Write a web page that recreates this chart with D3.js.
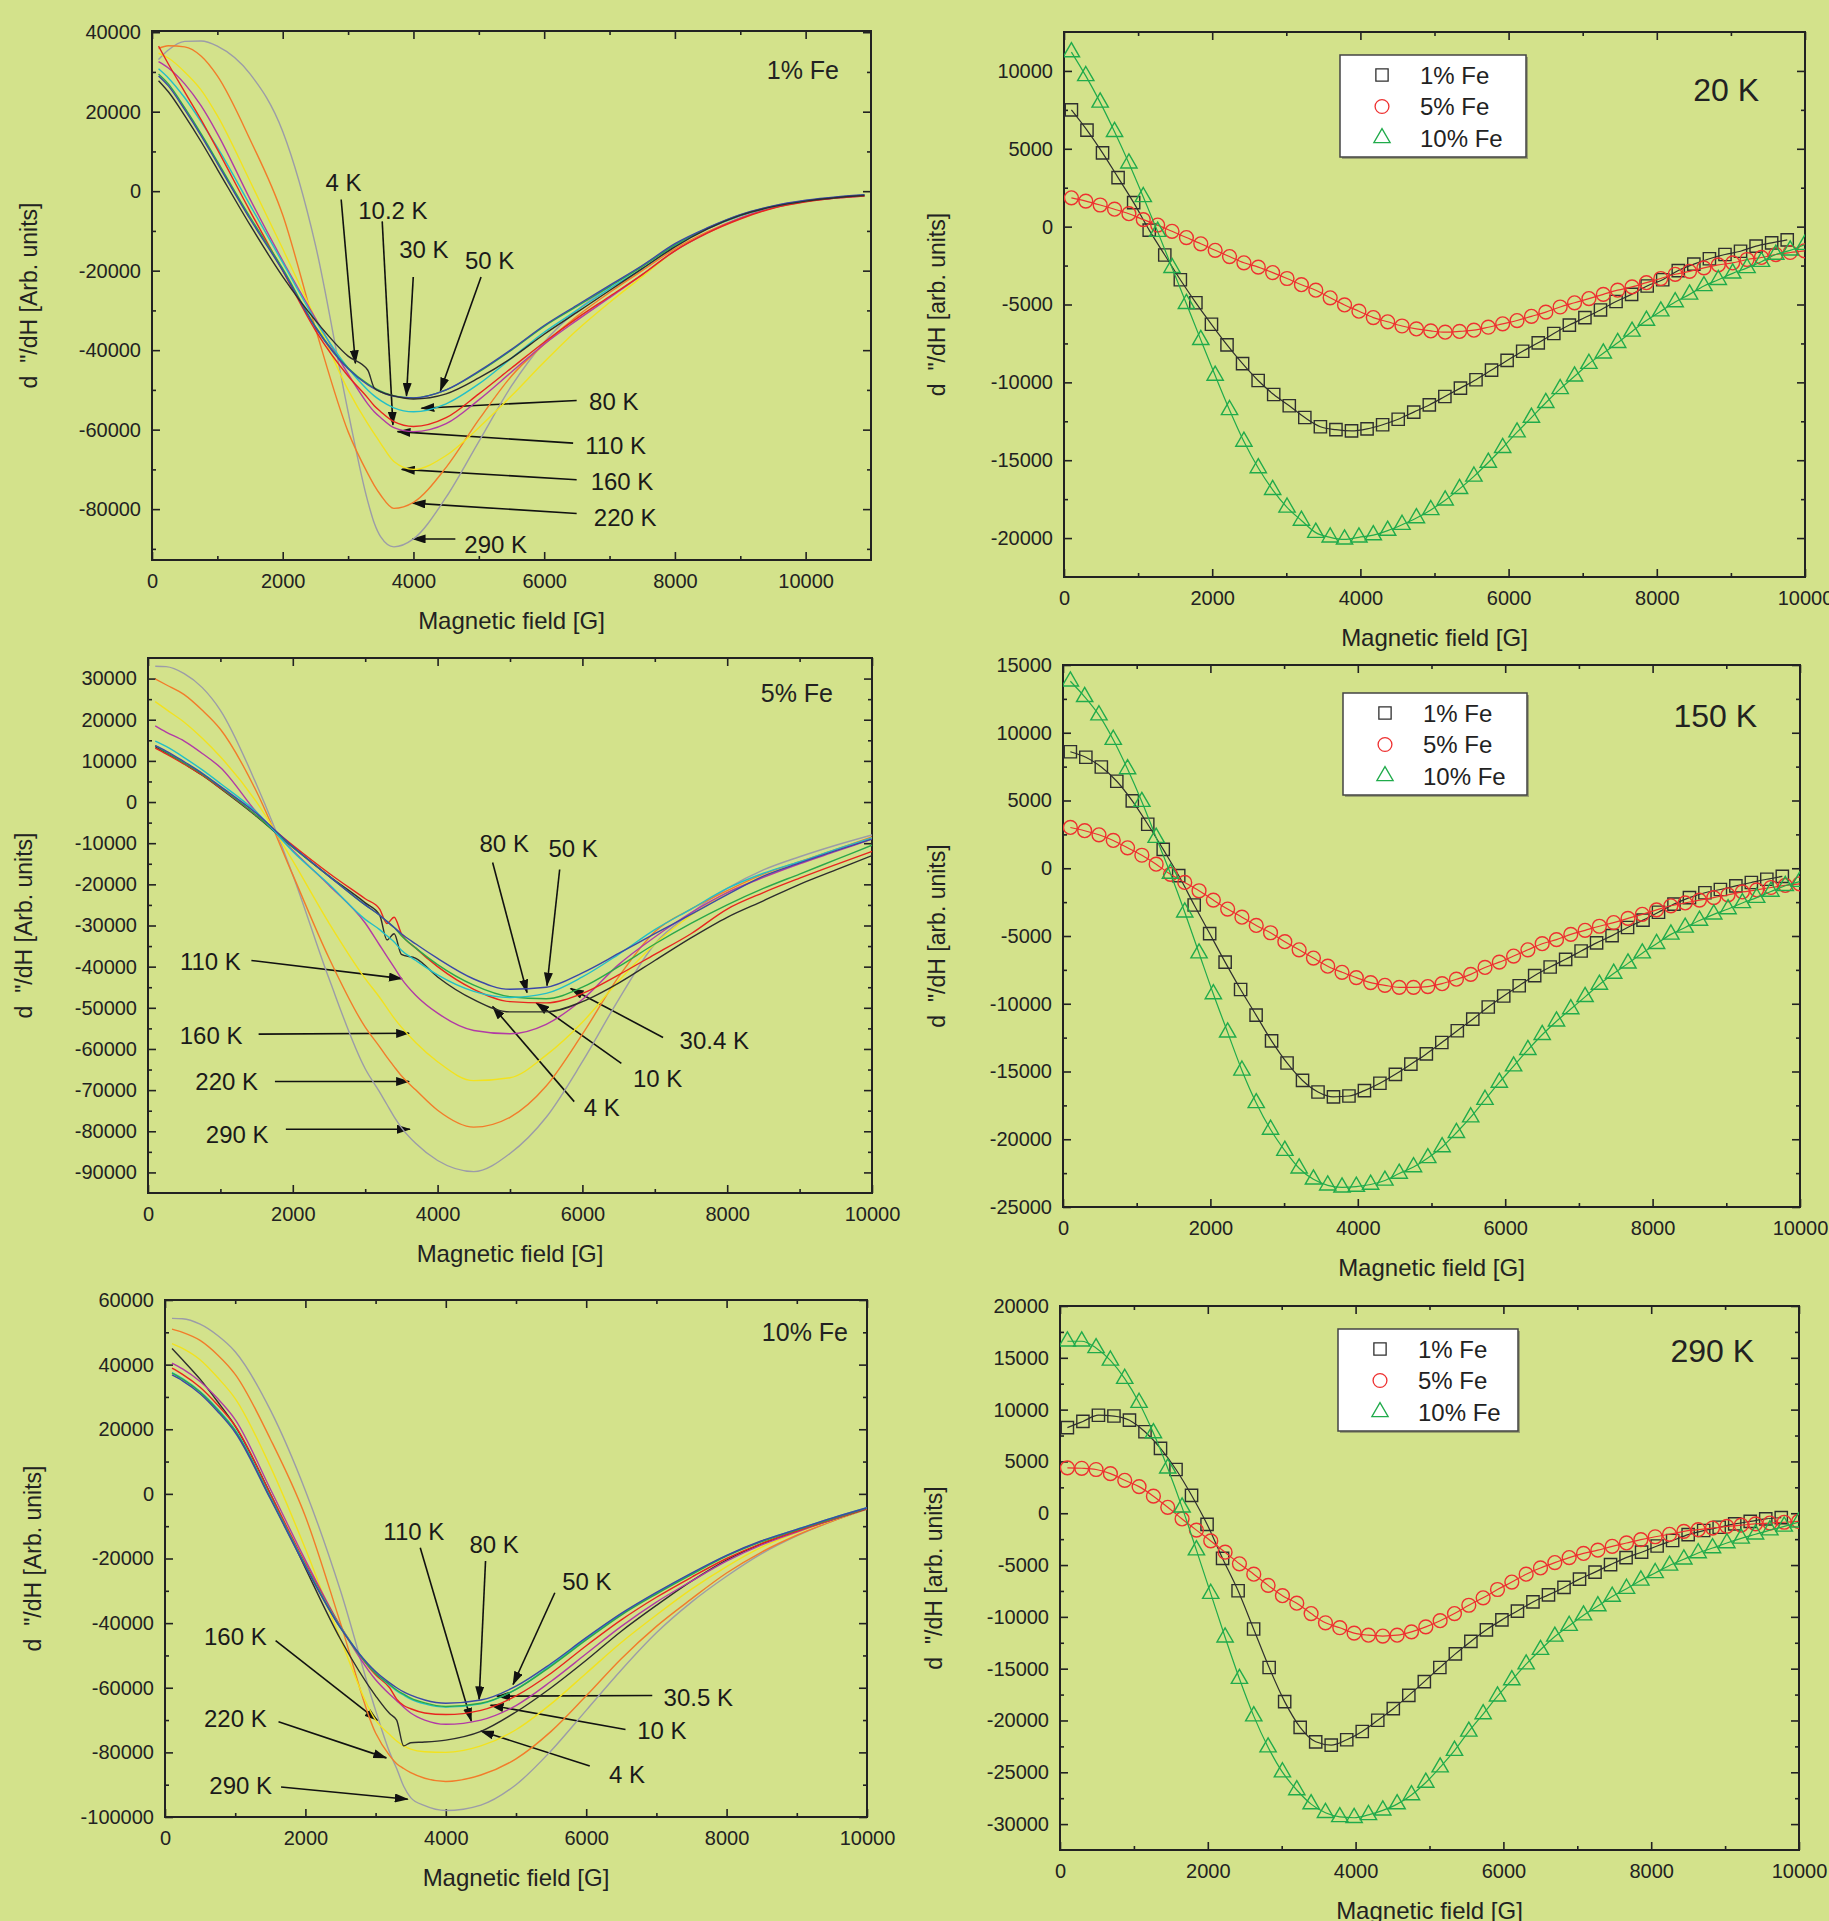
<!DOCTYPE html>
<html lang="en">
<head>
<meta charset="UTF-8">
<script src="https://d3js.org/d3.v7.min.js"></script>
<title>EPR derivative spectra vs field</title>
<style>
  body { margin: 0; background: #d3e28b; }
</style>
</head>
<body>
<script>
// ---------- left column: temperature series, one field grid per panel ----------
const fe1Field = [100, 250, 500, 750, 1000, 1500, 2000, 2500, 3000, 3300, 3400, 3500, 3700, 4000, 4500, 5000, 5500, 6000, 6500, 7000, 7500, 8000, 8500, 9000, 9500, 10000, 10500, 10900];
const fe1_4K   = [27800, 25000, 19000, 12500, 5500, -8500, -21500, -32500, -41500, -45000, -49500, -50500, -51500, -52300, -51000, -47000, -42000, -36000, -30500, -25000, -19500, -14000, -9500, -6100, -3900, -2500, -1600, -1100];
const fe1_10K  = [36500, 32000, 25000, 18000, 10500, -5000, -20000, -35000, -46500, -52000, -54000, -55500, -58000, -59200, -57000, -51000, -44500, -38000, -32000, -26500, -21000, -15000, -10500, -7000, -4300, -2700, -1700, -1200];
const fe1_30K  = [29500, 27000, 21000, 14500, 7500, -6500, -19500, -34000, -44500, -48500, -49500, -50300, -51500, -52000, -50000, -45500, -40000, -34000, -29000, -24000, -19000, -13500, -9300, -6000, -3800, -2400, -1500, -1000];
const fe1_50K  = [29000, 26500, 20500, 14000, 7000, -7000, -20000, -34300, -44700, -48700, -49700, -50500, -51600, -52000, -50000, -45300, -39800, -33800, -28700, -23700, -18700, -13200, -9200, -5900, -3700, -2300, -1400, -900];
const fe1_80K  = [30800, 28500, 23500, 17500, 11000, -3500, -18000, -32500, -44500, -50000, -51500, -52700, -54500, -55500, -53500, -48500, -42000, -35500, -30000, -24500, -19500, -13800, -9500, -6200, -3900, -2500, -1600, -1100];
const fe1_110K = [32600, 31000, 27000, 21500, 14500, -2000, -17500, -32000, -46000, -53500, -55500, -57000, -59500, -60500, -58500, -52500, -45500, -38500, -32500, -26800, -21000, -15000, -10500, -6800, -4200, -2600, -1700, -1200];
const fe1_160K = [34700, 33500, 30000, 25500, 19000, 2500, -14500, -32000, -50000, -58500, -61000, -63500, -68000, -70000, -66500, -59500, -51500, -43000, -35000, -28000, -21500, -15000, -10500, -6900, -4200, -2600, -1600, -1100];
const fe1_220K = [35900, 36600, 36300, 34000, 29000, 13000, -6000, -34500, -60500, -71000, -74000, -76500, -79800, -78300, -69500, -57500, -46500, -38500, -31500, -25500, -20000, -14500, -10200, -6700, -4100, -2500, -1600, -1100];
const fe1_290K = [33100, 35500, 37700, 37800, 36500, 29500, 15000, -13500, -55500, -78000, -83500, -87000, -89500, -87500, -77000, -63000, -49000, -38000, -30000, -24000, -18800, -13500, -9400, -6200, -3900, -2400, -1500, -1000];

const fe5Field = [100, 250, 500, 750, 1000, 1500, 2000, 2500, 3000, 3200, 3300, 3400, 3500, 3700, 4000, 4500, 5000, 5500, 6000, 6500, 7000, 7500, 8000, 8500, 9000, 9500, 10000];
const fe5_4K   = [13500, 12000, 9300, 6500, 3300, -3500, -11000, -18000, -24500, -27500, -33500, -32000, -37000, -38000, -42500, -48000, -51000, -51000, -48500, -44000, -38500, -33000, -28000, -24000, -20000, -16500, -13000];
const fe5_10K  = [13100, 11700, 9200, 6500, 3400, -3300, -10500, -17300, -23500, -26000, -29500, -28000, -32000, -35500, -40000, -45500, -48500, -48800, -46500, -42000, -37000, -32000, -26000, -22000, -18500, -15200, -12000];
const fe5_30K  = [13700, 12100, 9500, 6800, 3600, -3300, -11000, -18000, -25000, -27500, -29000, -30500, -32500, -35500, -39500, -44500, -47300, -47800, -45000, -40000, -34500, -29500, -25000, -21000, -17500, -14000, -10500];
const fe5_50K  = [13700, 12400, 9800, 7000, 3800, -2800, -10800, -18000, -25000, -27500, -29000, -30500, -32000, -34500, -38000, -43000, -45500, -45000, -41500, -36800, -32000, -27300, -22500, -18000, -14800, -11800, -9000];
const fe5_80K  = [14800, 13500, 10800, 7800, 4500, -2500, -12000, -20000, -28500, -31000, -32500, -34000, -36000, -38500, -42000, -46000, -47500, -46500, -42500, -37000, -31000, -26000, -21000, -17300, -14500, -11500, -8700];
const fe5_110K = [18500, 17000, 14800, 11800, 8400, -2500, -11800, -20200, -29400, -34800, -37500, -40200, -42900, -47000, -51300, -55500, -56300, -54000, -48000, -39500, -32800, -26900, -22000, -18300, -15000, -12000, -9000];
const fe5_160K = [24400, 22500, 19400, 15500, 11000, 0, -14300, -29400, -42900, -47500, -50000, -52500, -54700, -58500, -63100, -67700, -67000, -61500, -53500, -43500, -34500, -27500, -22000, -18000, -14800, -11800, -8800];
const fe5_220K = [29900, 28500, 26100, 22300, 17700, 2500, -17700, -37900, -54700, -59500, -62000, -64300, -66500, -70000, -74900, -79000, -76600, -69000, -56400, -42500, -31500, -26000, -21500, -17500, -14500, -11500, -8500];
const fe5_290K = [33000, 32900, 31200, 27800, 22300, 4200, -17700, -42900, -64800, -70500, -73500, -76500, -79100, -83000, -87100, -89800, -85400, -76600, -63100, -48000, -34500, -27000, -21000, -16500, -13300, -10500, -8000];

const fe10Field = [100, 250, 500, 750, 1000, 1500, 2000, 2500, 3000, 3200, 3300, 3400, 3500, 3700, 4000, 4500, 5000, 5500, 6000, 6500, 7000, 7500, 8000, 8500, 9000, 9500, 10000];
const fe10_4K   = [45000, 41500, 35500, 28500, 21000, 0, -23000, -45000, -62500, -68000, -70000, -78000, -77000, -76800, -76200, -73500, -67500, -60000, -51500, -42500, -34500, -27000, -20500, -15500, -11500, -8000, -4600];
const fe10_10K  = [38900, 37000, 33000, 27500, 21000, 0, -21500, -41000, -56000, -60000, -63500, -65500, -66500, -67800, -68300, -67000, -62500, -55500, -47000, -39000, -32000, -25800, -20000, -15300, -11500, -7900, -4500];
const fe10_30K  = [37400, 35500, 31500, 26000, 19500, -1200, -22300, -41500, -55500, -59000, -60700, -62000, -63200, -64700, -65800, -64800, -60500, -53300, -45200, -37500, -31000, -25000, -19300, -14800, -11200, -7700, -4400];
const fe10_50K  = [36800, 35000, 31000, 25500, 19000, -1500, -22500, -41500, -55000, -58500, -60000, -61300, -62300, -63800, -64800, -63800, -59500, -52500, -44500, -37000, -30500, -24500, -19000, -14500, -11000, -7500, -4300];
const fe10_80K  = [37500, 35700, 31700, 26300, 19800, -1000, -22000, -41200, -55500, -59200, -61000, -62300, -63500, -65000, -66000, -65000, -60500, -53000, -44800, -37200, -30700, -24700, -19100, -14600, -11000, -7500, -4300];
const fe10_110K = [40500, 38700, 34800, 29500, 23000, 1500, -20500, -41000, -57500, -62000, -64000, -66000, -67800, -70000, -71300, -70000, -65500, -58000, -49500, -41000, -33500, -27000, -20800, -15800, -11800, -8000, -4500];
const fe10_160K = [46500, 45000, 41500, 36000, 29500, 8500, -17000, -45000, -70000, -74500, -76500, -78000, -79000, -79800, -80000, -78000, -73000, -65000, -55500, -46000, -37500, -29500, -22500, -16500, -12000, -8200, -4600];
const fe10_220K = [51000, 50000, 47500, 43000, 37000, 17000, -7000, -40000, -74000, -81000, -83500, -85000, -86300, -88000, -89000, -87000, -82000, -73500, -62500, -51000, -41000, -32500, -24500, -18000, -12800, -8500, -4700];
const fe10_290K = [54300, 54200, 52500, 49000, 44000, 26000, 1000, -30000, -67000, -80000, -85000, -90500, -94000, -96500, -98000, -96300, -90000, -79500, -67000, -54500, -43000, -33500, -25500, -18500, -13000, -8500, -4800];

// ---------- right column: concentration series at fixed temperature ----------
const sqField = [100, 310, 520, 730, 940, 1150, 1360, 1570, 1780, 1990, 2200, 2410, 2620, 2830, 3040, 3250, 3460, 3670, 3880, 4090, 4300, 4510, 4720, 4930, 5140, 5350, 5560, 5770, 5980, 6190, 6400, 6610, 6820, 7030, 7240, 7450, 7660, 7870, 8080, 8290, 8500, 8710, 8920, 9130, 9340, 9550, 9760];
const ctField = [100, 294, 488, 682, 876, 1070, 1264, 1458, 1652, 1846, 2040, 2234, 2428, 2622, 2816, 3010, 3204, 3398, 3592, 3786, 3980, 4174, 4368, 4562, 4756, 4950, 5144, 5338, 5532, 5726, 5920, 6114, 6308, 6502, 6696, 6890, 7084, 7278, 7472, 7666, 7860, 8054, 8248, 8442, 8636, 8830, 9024, 9218, 9412, 9606, 9800, 9994];

const k20_fe1  = [7500, 6200, 4740, 3150, 1540, -220, -1820, -3410, -4890, -6270, -7590, -8800, -9880, -10780, -11500, -12260, -12850, -13040, -13120, -12990, -12720, -12370, -11910, -11450, -10910, -10370, -9830, -9210, -8590, -8000, -7460, -6860, -6320, -5840, -5350, -4810, -4350, -3810, -3410, -2820, -2410, -2060, -1790, -1580, -1250, -1040, -850];
const k20_fe5  = [1850, 1640, 1390, 1120, 830, 450, 100, -300, -700, -1100, -1520, -1920, -2320, -2600, -2950, -3330, -3730, -4080, -4570, -5030, -5430, -5840, -6110, -6380, -6570, -6700, -6780, -6730, -6650, -6460, -6240, -6030, -5760, -5490, -5160, -4890, -4620, -4350, -4080, -3870, -3600, -3330, -3060, -2870, -2650, -2460, -2330, -2110, -1980, -1790, -1660, -1550];
const k20_fe10 = [11210, 9680, 7980, 6090, 4070, 1910, -320, -2640, -4950, -7270, -9560, -11770, -13800, -15500, -16900, -18030, -18870, -19650, -19950, -20080, -19950, -19810, -19520, -19140, -18710, -18190, -17570, -16840, -16040, -15150, -14200, -13200, -12260, -11310, -10420, -9610, -8800, -8130, -7460, -6730, -6030, -5430, -4840, -4350, -3810, -3410, -3000, -2650, -2250, -1790, -1520, -1160];

const k150_fe1  = [8600, 8190, 7470, 6420, 4970, 3250, 1390, -540, -2710, -4820, -6930, -8950, -10840, -12740, -14370, -15660, -16510, -16870, -16810, -16410, -15870, -15210, -14460, -13700, -12860, -11990, -11140, -10240, -9430, -8670, -7920, -7290, -6720, -6110, -5510, -4970, -4370, -3830, -3250, -2650, -2170, -1810, -1570, -1300, -1050, -810, -600];
const k150_fe5  = [3010, 2770, 2470, 2050, 1510, 960, 300, -450, -1050, -1660, -2350, -3010, -3610, -4220, -4760, -5420, -6020, -6630, -7230, -7680, -8070, -8440, -8640, -8790, -8790, -8730, -8520, -8190, -7830, -7320, -6930, -6480, -6020, -5570, -5270, -4880, -4580, -4280, -4010, -3700, -3400, -3070, -2770, -2560, -2350, -2170, -1960, -1750, -1600, -1420, -1270, -1150];
const k150_fe10 = [13800, 12650, 11300, 9490, 7320, 4910, 2260, -390, -3250, -6270, -9280, -12110, -14920, -17320, -19280, -20840, -22140, -22960, -23400, -23550, -23490, -23340, -23040, -22530, -22050, -21380, -20570, -19520, -18370, -17080, -15810, -14610, -13400, -12290, -11290, -10390, -9490, -8580, -7770, -7020, -6270, -5570, -4880, -4370, -3860, -3400, -3010, -2560, -2170, -1720, -1290, -990];

const k290_fe1  = [8260, 8860, 9460, 9380, 8980, 7860, 6260, 4220, 1730, -1070, -4360, -7480, -11170, -14890, -18180, -20660, -22060, -22380, -21860, -21060, -19980, -18860, -17580, -16250, -14890, -13570, -12370, -11250, -10290, -9440, -8560, -7880, -7160, -6360, -5680, -4960, -4280, -3760, -3160, -2630, -2070, -1670, -1350, -1030, -790, -550, -430];
const k290_fe5  = [4380, 4340, 4220, 3820, 3180, 2570, 1650, 570, -550, -1630, -2670, -3760, -4880, -5880, -6960, -7960, -8680, -9680, -10570, -11050, -11570, -11770, -11850, -11770, -11450, -10970, -10370, -9680, -8880, -8160, -7360, -6640, -5880, -5280, -4760, -4280, -3880, -3560, -3190, -2870, -2550, -2270, -2030, -1750, -1590, -1430, -1270, -1150, -1030, -950, -870, -790];
const k290_fe10 = [16600, 16600, 15950, 14750, 12990, 10670, 7740, 4340, 570, -3560, -7760, -11970, -15970, -19580, -22580, -24990, -26710, -28070, -28910, -29310, -29390, -29110, -28670, -28070, -27190, -25990, -24510, -22910, -21060, -19380, -17660, -16100, -14570, -13170, -11890, -10850, -9840, -8960, -8040, -7280, -6480, -5760, -5040, -4440, -3840, -3360, -2870, -2430, -2030, -1630, -1270, -870];

// ---------- annotations: [label, text field, text value, arrow-from field, value, arrow-to field, value] ----------
const fe1Notes = [
  ["4 K", 2930, 2300, 2894, -2100, 3112, -43300],
  ["10.2 K", 3686, -4800, 3522, -7600, 3686, -58800],
  ["30 K", 4160, -14800, 3997, -21600, 3893, -51500],
  ["50 K", 5165, -17400, 5034, -21600, 4412, -50200],
  ["80 K", 7065, -52800, 6497, -52650, 4122, -54600],
  ["110 K", 7093, -64000, 6443, -63400, 3756, -60500],
  ["160 K", 7191, -73000, 6497, -72600, 3822, -70000],
  ["220 K", 7240, -82000, 6497, -81100, 3986, -78500],
  ["290 K", 5258, -88800, 4641, -87500, 3986, -87500]
];
const fe5Notes = [
  ["80 K", 4920, -10000, 4760, -14700, 5235, -46300],
  ["50 K", 5872, -11300, 5686, -16400, 5511, -44600],
  ["110 K", 862, -38700, 1428, -38500, 3507, -42900],
  ["160 K", 872, -56800, 1528, -56400, 3607, -56200],
  ["220 K", 1087, -67800, 1753, -67900, 3607, -67900],
  ["290 K", 1232, -80800, 1904, -79500, 3617, -79500],
  ["4 K", 6268, -74200, 5887, -72800, 4760, -49700],
  ["10 K", 7040, -67200, 6538, -63500, 5361, -48800],
  ["30.4 K", 7821, -58000, 7114, -57200, 5837, -45300]
];
const fe10Notes = [
  ["110 K", 3544, -11500, 3636, -16700, 4363, -70300],
  ["80 K", 4688, -15800, 4566, -20800, 4475, -63600],
  ["50 K", 6010, -27000, 5553, -30600, 4958, -59000],
  ["30.5 K", 7597, -63000, 6941, -62400, 4729, -62600],
  ["10 K", 7078, -73300, 6560, -72900, 4637, -65400],
  ["4 K", 6580, -86700, 6051, -84200, 4500, -73400],
  ["160 K", 1002, -44000, 1576, -45400, 3026, -70100],
  ["220 K", 1002, -69600, 1617, -70500, 3153, -81700],
  ["290 K", 1078, -90400, 1653, -90700, 3458, -94500]
];

const tempColor = {
  "4": "#2d2d2d", "10": "#e8251f", "30": "#2aa84a", "50": "#3b48a8", "80": "#22bfc8",
  "110": "#b23aa6", "160": "#f2e21e", "220": "#f27c2a", "290": "#9c9ca8"
};
const seriesStyle = [
  { name: "1% Fe", symbol: d3.symbolSquare, size: 150, color: "#2f2f2f" },
  { name: "5% Fe", symbol: d3.symbolCircle, size: 150, color: "#ee3030" },
  { name: "10% Fe", symbol: d3.symbolTriangle, size: 115, color: "#20ab4b" }
];

const width = 1829, height = 1921;
const bg = "#d3e28b";
const font = "'Liberation Sans', Arial, sans-serif";

const svg = d3.select("body").append("svg")
  .attr("width", width)
  .attr("height", height)
  .attr("viewBox", [0, 0, width, height])
  .style("font-family", font);

svg.append("rect").attr("width", width).attr("height", height).attr("fill", bg);

svg.append("defs").append("marker")
  .attr("id", "arrow")
  .attr("markerUnits", "userSpaceOnUse")
  .attr("markerWidth", 14).attr("markerHeight", 9)
  .attr("refX", 13).attr("refY", 4.5)
  .attr("orient", "auto")
  .append("path")
  .attr("d", "M0,0 L14,4.5 L0,9 Z")
  .attr("fill", "#111");

let clipId = 0;

function drawPanel(p) {
  const x = d3.scaleLinear().domain(p.xDomain).range([p.left, p.right]);
  const y = d3.scaleLinear().domain(p.yDomain).range([p.bottom, p.top]);
  const g = svg.append("g");

  const xMajor = d3.range(0, 10001, 2000);
  const xMinor = d3.range(1000, p.xDomain[1], 2000);
  const yMajor = d3.range(p.yFirst, p.yDomain[1] + 1, p.yStep);
  const yMinor = d3.range(p.yFirst - p.yStep / 2, p.yDomain[1], p.yStep / 2)
    .filter(v => v > p.yDomain[0] && v < p.yDomain[1] && !yMajor.includes(v));

  const style = a => a.attr("font-size", 20).attr("font-family", null).attr("color", "#222")
    .call(a => a.select(".domain").remove());

  // bottom / left with labels, top / right mirrored, all ticks inward
  g.append("g").attr("transform", `translate(0,${p.bottom})`)
    .call(d3.axisBottom(x).tickValues(xMajor).tickSize(-8).tickPadding(14).tickFormat(d => d))
    .call(style);
  g.append("g").attr("transform", `translate(0,${p.bottom})`)
    .call(d3.axisBottom(x).tickValues(xMinor).tickSize(-4).tickFormat(""))
    .call(style);
  g.append("g").attr("transform", `translate(0,${p.top})`)
    .call(d3.axisTop(x).tickValues(xMajor).tickSize(-8).tickFormat(""))
    .call(style);
  g.append("g").attr("transform", `translate(0,${p.top})`)
    .call(d3.axisTop(x).tickValues(xMinor).tickSize(-4).tickFormat(""))
    .call(style);
  g.append("g").attr("transform", `translate(${p.left},0)`)
    .call(d3.axisLeft(y).tickValues(yMajor).tickSize(-8).tickPadding(11).tickFormat(d => String(d)))
    .call(style);
  g.append("g").attr("transform", `translate(${p.left},0)`)
    .call(d3.axisLeft(y).tickValues(yMinor).tickSize(-4).tickFormat(""))
    .call(style);
  g.append("g").attr("transform", `translate(${p.right},0)`)
    .call(d3.axisRight(y).tickValues(yMajor).tickSize(-8).tickFormat(""))
    .call(style);
  g.append("g").attr("transform", `translate(${p.right},0)`)
    .call(d3.axisRight(y).tickValues(yMinor).tickSize(-4).tickFormat(""))
    .call(style);

  g.selectAll(".tick line").attr("stroke", "#222").attr("stroke-width", 1.6);

  g.append("rect")
    .attr("x", p.left).attr("y", p.top)
    .attr("width", p.right - p.left).attr("height", p.bottom - p.top)
    .attr("fill", "none").attr("stroke", "#222").attr("stroke-width", 2);

  g.append("text")
    .attr("x", (p.left + p.right) / 2).attr("y", p.bottom + 60)
    .attr("text-anchor", "middle").attr("dominant-baseline", "central")
    .attr("font-size", 24).attr("fill", "#222")
    .text("Magnetic field [G]");

  g.append("text")
    .attr("transform", `translate(${p.yTitleX},${(p.top + p.bottom) / 2}) rotate(-90)`)
    .attr("text-anchor", "middle").attr("dominant-baseline", "central")
    .attr("font-size", 23).attr("fill", "#222")
    .style("white-space", "pre")
    .text(p.yTitle);

  g.append("text")
    .attr("x", p.labelX).attr("y", p.labelY)
    .attr("text-anchor", "end").attr("dominant-baseline", "central")
    .attr("font-size", p.labelSize).attr("fill", "#222")
    .text(p.label);

  const id = "clip" + (clipId++);
  svg.append("clipPath").attr("id", id).append("rect")
    .attr("x", p.left).attr("y", p.top)
    .attr("width", p.right - p.left).attr("height", p.bottom - p.top);
  const plot = svg.append("g").attr("clip-path", `url(#${id})`);

  return { x, y, plot, g };
}

function drawTemps(panel, field, curves, notes) {
  const { x, y, plot, g } = panel;
  const line = d3.line()
    .curve(d3.curveMonotoneX)
    .x(d => x(d[0]))
    .y(d => y(d[1]));
  curves.forEach(c => {
    plot.append("path")
      .datum(d3.zip(field, c.values))
      .attr("fill", "none")
      .attr("stroke", tempColor[c.t])
      .attr("stroke-width", 1.4)
      .attr("d", line);
  });
  notes.forEach(n => {
    g.append("line")
      .attr("x1", x(n[3])).attr("y1", y(n[4]))
      .attr("x2", x(n[5])).attr("y2", y(n[6]))
      .attr("stroke", "#111").attr("stroke-width", 1.6)
      .attr("marker-end", "url(#arrow)");
    g.append("text")
      .attr("x", x(n[1])).attr("y", y(n[2]))
      .attr("text-anchor", "middle").attr("dominant-baseline", "central")
      .attr("font-size", 24).attr("fill", "#1a1a1a")
      .text(n[0]);
  });
}

function drawConc(panel, seriesData, legendBox) {
  const { x, y, plot, g } = panel;
  const line = d3.line()
    .curve(d3.curveMonotoneX)
    .x(d => x(d[0]))
    .y(d => y(d[1]));
  seriesData.forEach((s, i) => {
    const st = seriesStyle[i];
    const pts = d3.zip(s.field, s.values);
    plot.append("path")
      .datum(pts)
      .attr("fill", "none")
      .attr("stroke", st.color)
      .attr("stroke-width", 1.2)
      .attr("d", line);
    plot.append("g").selectAll("path")
      .data(pts)
      .join("path")
      .attr("transform", d => `translate(${x(d[0])},${y(d[1])})`)
      .attr("d", d3.symbol(st.symbol, st.size))
      .attr("fill", "none")
      .attr("stroke", st.color)
      .attr("stroke-width", 1.4);
  });

  const lg = g.append("g").attr("transform", `translate(${legendBox[0]},${legendBox[1]})`);
  lg.append("rect").attr("x", 2).attr("y", 2)
    .attr("width", legendBox[2]).attr("height", legendBox[3]).attr("fill", "#9aa070");
  lg.append("rect")
    .attr("width", legendBox[2]).attr("height", legendBox[3])
    .attr("fill", "#ffffff").attr("stroke", "#444").attr("stroke-width", 1.5);
  seriesStyle.forEach((st, i) => {
    const yy = 20 + i * 31.5;
    lg.append("path")
      .attr("transform", `translate(42,${yy})`)
      .attr("d", d3.symbol(st.symbol, st.size))
      .attr("fill", "none").attr("stroke", st.color).attr("stroke-width", 1.3);
    lg.append("text")
      .attr("x", 80).attr("y", yy)
      .attr("dominant-baseline", "central")
      .attr("font-size", 24).attr("fill", "#222")
      .text(st.name);
  });
}

const yTitleLeft = "d  \"/dH [Arb. units]";
const yTitleRight = "d  \"/dH [arb. units]";

// ---------- left column ----------
const pTL = drawPanel({
  left: 152, right: 871, top: 31, bottom: 560,
  xDomain: [0, 11000], yDomain: [-92800, 40300], yFirst: -80000, yStep: 20000,
  yTitle: yTitleLeft, yTitleX: 29, label: "1% Fe", labelX: 839, labelY: 70, labelSize: 25
});
drawTemps(pTL, fe1Field, [
  { t: "290", values: fe1_290K }, { t: "220", values: fe1_220K }, { t: "160", values: fe1_160K },
  { t: "110", values: fe1_110K }, { t: "80", values: fe1_80K }, { t: "10", values: fe1_10K },
  { t: "30", values: fe1_30K }, { t: "50", values: fe1_50K }, { t: "4", values: fe1_4K }
], fe1Notes);

const pML = drawPanel({
  left: 148, right: 872, top: 658, bottom: 1193,
  xDomain: [0, 10000], yDomain: [-95000, 35000], yFirst: -90000, yStep: 10000,
  yTitle: yTitleLeft, yTitleX: 24, label: "5% Fe", labelX: 833, labelY: 693, labelSize: 25
});
drawTemps(pML, fe5Field, [
  { t: "290", values: fe5_290K }, { t: "220", values: fe5_220K }, { t: "160", values: fe5_160K },
  { t: "110", values: fe5_110K }, { t: "4", values: fe5_4K }, { t: "10", values: fe5_10K },
  { t: "30", values: fe5_30K }, { t: "80", values: fe5_80K }, { t: "50", values: fe5_50K }
], fe5Notes);

const pBL = drawPanel({
  left: 165, right: 867, top: 1300, bottom: 1817,
  xDomain: [0, 10000], yDomain: [-100000, 60000], yFirst: -100000, yStep: 20000,
  yTitle: yTitleLeft, yTitleX: 33, label: "10% Fe", labelX: 848, labelY: 1332, labelSize: 25
});
drawTemps(pBL, fe10Field, [
  { t: "290", values: fe10_290K }, { t: "220", values: fe10_220K }, { t: "160", values: fe10_160K },
  { t: "4", values: fe10_4K }, { t: "110", values: fe10_110K }, { t: "10", values: fe10_10K },
  { t: "80", values: fe10_80K }, { t: "30", values: fe10_30K }, { t: "50", values: fe10_50K }
], fe10Notes);

// ---------- right column ----------
const pTR = drawPanel({
  left: 1064, right: 1805, top: 32, bottom: 577,
  xDomain: [0, 10000], yDomain: [-22500, 12500], yFirst: -20000, yStep: 5000,
  yTitle: yTitleRight, yTitleX: 937, label: "20 K", labelX: 1759, labelY: 90, labelSize: 32
});
drawConc(pTR, [
  { field: sqField, values: k20_fe1 }, { field: ctField, values: k20_fe5 }, { field: ctField, values: k20_fe10 }
], [1340, 55, 186, 102]);

const pMR = drawPanel({
  left: 1063, right: 1800, top: 665, bottom: 1207,
  xDomain: [0, 10000], yDomain: [-25000, 15000], yFirst: -25000, yStep: 5000,
  yTitle: yTitleRight, yTitleX: 937, label: "150 K", labelX: 1757, labelY: 716, labelSize: 32
});
drawConc(pMR, [
  { field: sqField, values: k150_fe1 }, { field: ctField, values: k150_fe5 }, { field: ctField, values: k150_fe10 }
], [1343, 693, 184, 102]);

const pBR = drawPanel({
  left: 1060, right: 1799, top: 1306, bottom: 1850,
  xDomain: [0, 10000], yDomain: [-32500, 20000], yFirst: -30000, yStep: 5000,
  yTitle: yTitleRight, yTitleX: 934, label: "290 K", labelX: 1754, labelY: 1351, labelSize: 32
});
drawConc(pBR, [
  { field: sqField, values: k290_fe1 }, { field: ctField, values: k290_fe5 }, { field: ctField, values: k290_fe10 }
], [1338, 1329, 180, 102]);
</script>
</body>
</html>
